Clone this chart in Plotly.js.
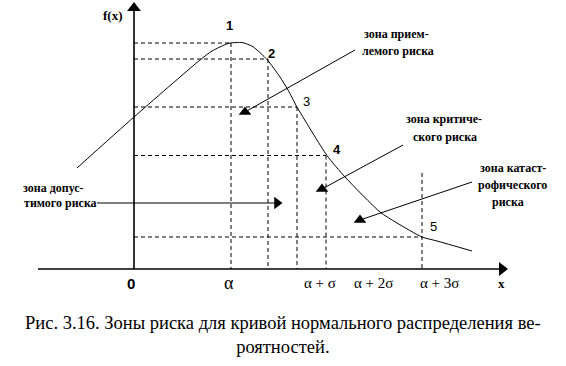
<!DOCTYPE html>
<html><head><meta charset="utf-8">
<script src="https://cdn.plot.ly/plotly-3.0.1.min.js"></script>
<style>html,body{margin:0;padding:0;background:#fff}</style>
</head><body><div id="chart" style="width:566px;height:366px"></div>
<script>
// Curve f(x) (schematic units; origin at axes intersection)
const curveX = [-57, 0, 66, 78, 94, 102, 109, 119, 133, 146, 154, 163, 193, 211, 246, 263, 288, 303, 338];
const curveY = [101, 152, 209, 218, 225.5, 226.5, 226.3, 222.3, 209.5, 192, 179, 162, 113.5, 92, 57, 46, 32, 28, 18];
// Marked points 1..5
const pointX = [97, 134, 163, 192, 288];
const pointY = [226, 210, 162, 113.5, 32];
const pointLabels = ['1', '2', '3', '4', '5'];
const dashTop = [226, 210, 162, 113.5, 96];
// Axis tick labels
const tickLabels = ['0', 'α', 'α + σ', 'α + 2σ', 'α + 3σ'];
const tickX = [-3, 95, 186, 239, 305];
// Zone labels
const zoneLines = [
  ['зона прием-', 'лемого риска'],
  ['зона критиче-', 'ского риска'],
  ['зона катаст-', 'рофического', 'риска'],
  ['зона допус-', 'тимого риска']
];
// Arrow pointers: [fromX, fromY, toX, toY]
const arrowFromX = [221, 269, 338, -37];
const arrowFromY = [219, 124, 87, 66];
const arrowToX = [111, 188, 226, 143];
const arrowToY = [157, 80, 49, 66];

const SERIF = '"Liberation Serif", "Times New Roman", Times, serif';
const SANS = '"Liberation Sans", Arial, sans-serif';

const traces = [];
// dashed guide lines
const dx = [], dy = [];
for (let i = 0; i < pointX.length; i++) {
  dx.push(0, pointX[i], null, pointX[i], pointX[i], null);
  dy.push(pointY[i], pointY[i], null, dashTop[i], 0, null);
}
traces.push({x: dx, y: dy, mode: 'lines', line: {color: '#000', width: 1, dash: '4px,3px'}, hoverinfo: 'skip'});
// axes
traces.push({x: [-96, 366], y: [0, 0], mode: 'lines', line: {color: '#000', width: 1.6}});
traces.push({x: [0, 0], y: [0, 258], mode: 'lines', line: {color: '#000', width: 1.6}});
traces.push({x: [368], y: [0], mode: 'markers', marker: {symbol: 'triangle-right', size: 12, color: '#000'}});
traces.push({x: [0], y: [261], mode: 'markers', marker: {symbol: 'triangle-up', size: 12, color: '#000'}});
// curve
traces.push({x: curveX, y: curveY, mode: 'lines', line: {color: '#000', width: 1, shape: 'spline', smoothing: 0.6}});
// arrows
for (let i = 0; i < arrowFromX.length; i++) {
  traces.push({x: [arrowFromX[i], arrowToX[i]], y: [arrowFromY[i], arrowToY[i]], mode: 'lines', line: {color: '#000', width: 1}});
  traces.push({x: [arrowToX[i]], y: [arrowToY[i]], mode: 'markers',
    marker: {symbol: i === 3 ? 'triangle-right' : 'triangle-up', size: 11, color: '#000'}});
}

const ann = [];
const numPos = [[95, 244], [137, 216], [172, 168], [203, 120], [299, 43]];
pointLabels.forEach((t, i) => ann.push({x: numPos[i][0], y: numPos[i][1], text: t, showarrow: false,
  font: {family: SANS, size: 13, color: '#000', weight: (i === 2 || i === 4) ? 'normal' : 'bold'}}));
tickLabels.forEach((t, i) => ann.push({x: tickX[i], y: -14, text: t, showarrow: false,
  font: {family: i === 0 ? SANS : SERIF, size: i === 1 ? 18 : 15, color: '#000', weight: i === 0 ? 'bold' : 'normal'}}));
ann.push({x: 367, y: -14, text: 'x', showarrow: false, font: {family: SERIF, size: 13, color: '#000', weight: 'bold'}});
ann.push({x: -21, y: 254, text: 'f(x)', showarrow: false, font: {family: SERIF, size: 13, color: '#000', weight: 'bold'}});
const zonePos = [
  [[262, 235], [264, 218]],
  [[310, 150], [311, 132]],
  [[379, 101], [378, 84], [374, 67]],
  [[-81, 81], [-74, 66]]
];
zoneLines.forEach((lines, z) => lines.forEach((t, k) => ann.push({x: zonePos[z][k][0], y: zonePos[z][k][1], text: t, showarrow: false,
  font: {family: SERIF, size: 12, color: '#000', weight: 'bold'}})));
ann.push({xref: 'paper', yref: 'paper', x: 0.5, y: 0.02, text: 'Рис. 3.16. Зоны риска для кривой нормального распределения ве-<br>роятностей.',
  showarrow: false, font: {family: SERIF, size: 18.5, color: '#000'}});

const layout = {
  width: 566, height: 366, margin: {l: 0, r: 0, t: 0, b: 0},
  paper_bgcolor: '#fff', plot_bgcolor: '#fff', showlegend: false,
  xaxis: {range: [-134, 432], visible: false, fixedrange: true},
  yaxis: {range: [-97, 269], visible: false, fixedrange: true},
  annotations: ann
};
Plotly.newPlot('chart', traces, layout, {staticPlot: true, displayModeBar: false});
</script></body></html>
